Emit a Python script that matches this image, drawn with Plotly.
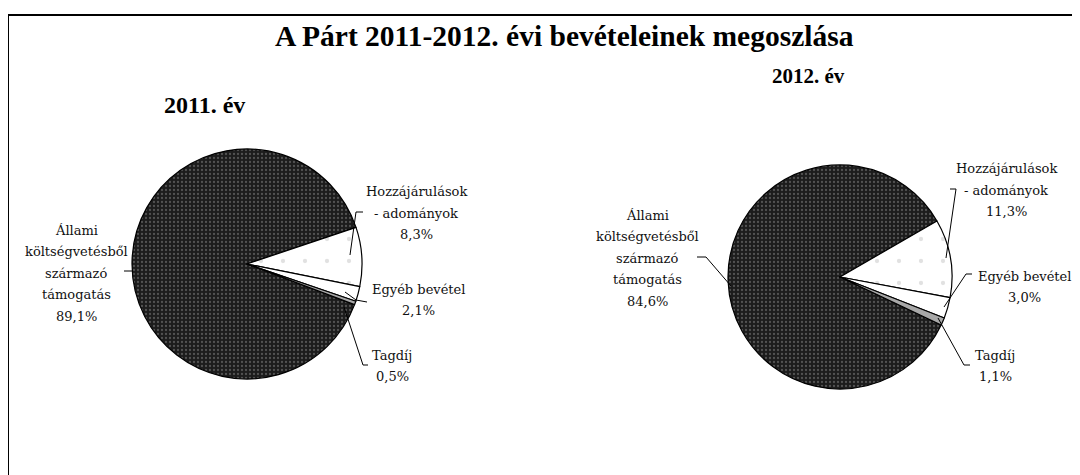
import plotly.graph_objects as go

W, H = 1080, 475
OFF = 8  # browser body margin

categories = ["Állami költségvetésből származó támogatás", "Hozzájárulások - adományok", "Egyéb bevétel", "Tagdíj"]
label_lines = [["Állami", "költségvetésből", "származó", "támogatás"],
               ["Hozzájárulások", "- adományok"],
               ["Egyéb bevétel"],
               ["Tagdíj"]]
values_2011 = [89.1, 8.3, 2.1, 0.5]
values_2012 = [84.6, 11.3, 3.0, 1.1]
years = ["2011. év", "2012. év"]
title = "A Párt 2011-2012. évi bevételeinek megoszlása"

colors = ["#1c1c1c", "#ffffff", "#ffffff", "#a8a8a8"]
pat_shapes = [".", ".", "", ""]
pat_fg = ["#8a8a8a", "#c4c4c4", "#000000", "#000000"]
pat_size = [4, 22, 8, 8]
pat_sol = [0.25, 0.03, 0.3, 0.3]


def px(x, y):
    return (x - OFF) / W, 1 - (y - OFF) / H


def dom(cx, cy, r):
    return dict(x=[(cx - OFF - r) / W, (cx - OFF + r) / W],
                y=[1 - (cy - OFF + r) / H, 1 - (cy - OFF - r) / H])


fig = go.Figure()
pie_geom = [(247, 264, 115, 110.7), (840, 277, 112, 115.4)]
for vals, (cx, cy, r, rot) in zip([values_2011, values_2012], pie_geom):
    fig.add_trace(go.Pie(
        labels=categories, values=vals, sort=False, direction="clockwise",
        rotation=rot, textinfo="none", hoverinfo="label+percent",
        marker=dict(colors=colors, line=dict(color="#000000", width=1.2),
                    pattern=dict(shape=pat_shapes, fgcolor=pat_fg, bgcolor=colors,
                                 size=pat_size, solidity=pat_sol, fillmode="overlay")),
        domain=dom(cx, cy, r), showlegend=False,
    ))

lab_font = dict(family="DejaVu Serif", size=13, color="#111111")
LINE_H = 21.5
annotations = []
# label centers per chart (pixels)
lab_pos = [
    [(76, 273), (416, 213), (418, 300), (392, 366)],
    [(647, 258), (1006, 190), (1024, 287), (995, 366)],
]
for vals, poss in zip([values_2011, values_2012], lab_pos):
    for lines, v, (x, y) in zip(label_lines, vals, poss):
        all_lines = lines + [f"{v:.1f}%".replace(".", ",")]
        n = len(all_lines)
        for i, ln in enumerate(all_lines):
            yy_px = y + (i - (n - 1) / 2) * LINE_H
            xx, yy = px(x, yy_px)
            annotations.append(dict(text=ln, x=xx, y=yy, xref="paper", yref="paper",
                                    showarrow=False, font=lab_font, align="center",
                                    xanchor="center", yanchor="middle"))

tx, ty = px(564, 36)
annotations.append(dict(text="<b>" + title + "</b>", x=tx, y=ty,
                        xref="paper", yref="paper", showarrow=False,
                        font=dict(family="Liberation Serif", size=29.5, color="#000"),
                        xanchor="center", yanchor="middle"))
for t, (x, y), s in zip(years, [(204, 105), (808, 76)], [24, 21]):
    xx, yy = px(x, y)
    annotations.append(dict(text="<b>" + t + "</b>", x=xx, y=yy, xref="paper", yref="paper",
                            showarrow=False, font=dict(family="Liberation Serif", size=s, color="#000"),
                            xanchor="center", yanchor="middle"))

leaders = [
    [(124, 271), (133, 271)],
    [(363, 212), (356, 212), (350, 255)],
    [(345, 292), (356, 300), (367, 302)],
    [(344, 307), (363, 365), (368, 365)],
    [(697, 257), (706, 257), (731, 286)],
    [(950, 189), (956, 189), (946, 258)],
    [(972, 274), (966, 274), (944, 307)],
    [(938, 318), (964, 365), (970, 365)],
]
shapes = []
for pts in leaders:
    path = ""
    for i, (x, y) in enumerate(pts):
        xx, yy = px(x, y)
        path += ("M" if i == 0 else "L") + f"{xx},{yy} "
    shapes.append(dict(type="path", path=path, xref="paper", yref="paper",
                       line=dict(color="#000", width=1)))
# frame
x0, y0 = px(8, 15)
x1, y1 = px(1075, 490)
shapes.append(dict(type="rect", x0=x0, y0=y1, x1=x1, y1=y0, xref="paper", yref="paper",
                   line=dict(color="#000", width=2)))

fig.update_layout(width=W, height=H, margin=dict(l=0, r=0, t=0, b=0),
                  paper_bgcolor="#ffffff", plot_bgcolor="#ffffff",
                  annotations=annotations, shapes=shapes)
fig.write_html("out.html")
